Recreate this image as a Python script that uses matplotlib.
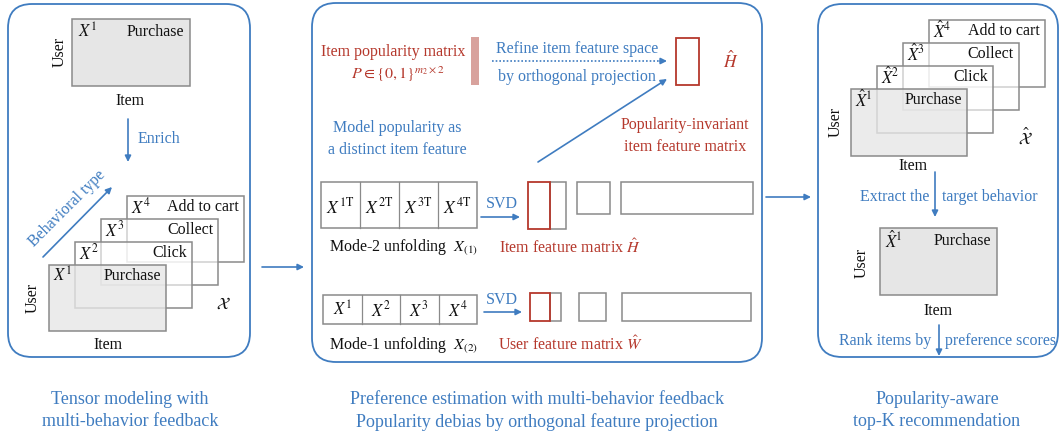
import matplotlib
matplotlib.use("Agg")
import matplotlib.pyplot as plt
from matplotlib.patches import Rectangle, FancyBboxPatch
from matplotlib.colors import to_rgba

plt.rcParams['font.family'] = ['Liberation Serif', 'DejaVu Serif']
plt.rcParams['mathtext.fontset'] = 'stix'

# ---- content ----
behaviors = ['Purchase', 'Click', 'Collect', 'Add to cart']
x_labels = [r'$X^{1}$', r'$X^{2}$', r'$X^{3}$', r'$X^{4}$']
xt_labels = [r'$X^{1\mathrm{T}}$', r'$X^{2\mathrm{T}}$', r'$X^{3\mathrm{T}}$', r'$X^{4\mathrm{T}}$']
xhat_labels = [r'$\hat{X}^{1}$', r'$\hat{X}^{2}$', r'$\hat{X}^{3}$', r'$\hat{X}^{4}$']
captions = [
    ['Tensor modeling with', 'multi-behavior feedback'],
    ['Preference estimation with multi-behavior feedback',
     'Popularity debias by orthogonal feature projection'],
    ['Popularity-aware', 'top-K recommendation'],
]

BLUE = '#3f7cc0'
RED = '#b5382c'
GRAY = '#8a8a8a'
FILL = '#e6e6e6'
PINK = '#d8a29d'
BLACK = '#111111'
FS = 11.5

fig = plt.figure(figsize=(10.61, 4.35), dpi=100)
ax = fig.add_axes([0, 0, 1, 1])
ax.set_xlim(0, 1061)
ax.set_ylim(435, 0)
ax.axis('off')


def rect(x0, y0, x1, y1, ec=GRAY, fc='none', lw=1.1, z=2):
    ax.add_patch(Rectangle((x0, y0), x1 - x0, y1 - y0, ec=ec, fc=fc, lw=lw,
                           zorder=z))


def arrow(x0, y0, x1, y1, ls='-'):
    ax.annotate('', xy=(x1, y1), xytext=(x0, y0),
                arrowprops=dict(arrowstyle='-|>', color=BLUE, lw=1.2,
                                mutation_scale=9, linestyle=ls,
                                shrinkA=0, shrinkB=0))


def txt(x, y, s, color=BLACK, ha='center', fs=FS, rot=0, **kw):
    ax.text(x, y, s, color=color, ha=ha, va='center', fontsize=fs,
            rotation=rot, rotation_mode='anchor', zorder=12, **kw)


def panel(x0, y0, x1, y1):
    ax.add_patch(FancyBboxPatch((x0, y0), x1 - x0, y1 - y0,
                                boxstyle='round,pad=0,rounding_size=24',
                                ec=BLUE, fc='none', lw=1.3, zorder=1))


def stack(x0, y0, dx, dy, w, h, labels, names):
    for i in range(3, -1, -1):
        bx = x0 + i * dx
        by = y0 - i * dy
        fc = to_rgba(FILL, 0.8) if i == 0 else to_rgba('white', 0.6)
        rect(bx, by, bx + w, by + h, ec=GRAY, fc=fc, z=2 + (3 - i), lw=1.1)
    for i in range(4):
        bx = x0 + i * dx
        by = y0 - i * dy
        txt(bx + 4, by + 10, labels[i], ha='left', fs=FS + 0.5)
        txt(bx + w - 5, by + 10, names[i], ha='right')


# ---- panels ----
panel(8, 5, 250, 358)
panel(312, 4, 762, 363)
panel(818, 5, 1058, 358)

arrow(262, 268, 304, 268)
arrow(766, 198, 811, 198)

# ---- panel 1 ----
rect(72, 20, 190, 87, fc=FILL)
txt(78, 32, x_labels[0], ha='left', fs=FS + 0.5)
txt(184, 32, behaviors[0], ha='right')
txt(60, 52, 'User', rot=90)
txt(130, 101, 'Item')
arrow(128, 120, 128, 163)
txt(138, 139, 'Enrich', color=BLUE, ha='left')
arrow(43, 258, 112, 188)
txt(31, 244, 'Behavioral type', color=BLUE, ha='left', rot=45)
stack(49, 266, 26, 23, 117, 66, x_labels, behaviors)
txt(33, 298, 'User', rot=90)
txt(108, 345, 'Item')
txt(223, 305, r'$\mathcal{X}$', fs=FS + 1)

# ---- panel 2 ----
txt(393, 52, 'Item popularity matrix', color=RED)
txt(398, 74, r'$P \in \{0,1\}^{m_2\times 2}$', color=RED)
rect(471, 38, 479, 86, ec='none', fc=PINK)
txt(577, 49, 'Refine item feature space', color=BLUE)
txt(577, 77, 'by orthogonal projection', color=BLUE)
ax.plot([492, 662], [62, 62], color=BLUE, lw=1.2, ls=(0, (1, 1.2)))
arrow(660, 62, 667, 62)
rect(676, 39, 699, 86, ec=RED, lw=1.3)
txt(731, 61, r'$\hat{H}$', color=RED, fs=FS + 1)
arrow(538, 163, 667, 80)
txt(397, 128, 'Model popularity as', color=BLUE)
txt(397, 150, 'a distinct item feature', color=BLUE)
txt(685, 125, 'Popularity-invariant', color=RED)
txt(685, 147, 'item feature matrix', color=RED)

# mode-2 unfolding
cw = (477 - 321) / 4
rect(321, 183, 477, 229)
for i in range(4):
    if i > 0:
        ax.plot([321 + i * cw] * 2, [183, 229], color=GRAY, lw=0.9, zorder=3)
    txt(321 + (i + 0.5) * cw, 207, xt_labels[i], fs=FS + 1)
txt(502, 204, 'SVD', color=BLUE)
arrow(481, 218, 520, 218)
rect(550, 183, 566, 230)
rect(528, 183, 550, 230, ec=RED, lw=1.3, z=3)
rect(577, 183, 610, 215)
rect(621, 183, 753, 215)
txt(329, 247, 'Mode-2 unfolding  ' + r'$X_{(1)}$', ha='left')
txt(499, 248, 'Item feature matrix ' + r'$\hat{H}$', color=RED, ha='left')

# mode-1 unfolding
cw = (477 - 323) / 4
rect(323, 296, 477, 325)
for i in range(4):
    if i > 0:
        ax.plot([323 + i * cw] * 2, [296, 325], color=GRAY, lw=0.9, zorder=3)
    txt(323 + (i + 0.5) * cw, 310, x_labels[i], fs=FS + 0.5)
txt(502, 300, 'SVD', color=BLUE)
arrow(484, 313, 522, 313)
rect(550, 294, 561, 322)
rect(530, 294, 550, 322, ec=RED, lw=1.3, z=3)
rect(579, 294, 606, 322)
rect(622, 294, 751, 322)
txt(329, 345, 'Mode-1 unfolding  ' + r'$X_{(2)}$', ha='left')
txt(498, 345, 'User feature matrix ' + r'$\hat{W}$', color=RED, ha='left')

# ---- panel 3 ----
stack(851, 90, 26, 23, 116, 67, xhat_labels, behaviors)
txt(836, 122, 'User', rot=90)
txt(913, 166, 'Item')
txt(1025, 137, r'$\hat{\mathcal{X}}$', fs=FS + 1)
arrow(935, 173, 935, 218)
txt(929, 197, 'Extract the', color=BLUE, ha='right')
txt(942, 197, 'target behavior', color=BLUE, ha='left')
rect(880, 229, 997, 296, fc=FILL)
txt(885, 241, xhat_labels[0], ha='left', fs=FS + 0.5)
txt(991, 241, behaviors[0], ha='right')
txt(862, 263, 'User', rot=90)
txt(938, 311, 'Item')
arrow(939, 326, 939, 357)
txt(931, 341, 'Rank items by', color=BLUE, ha='right')
txt(945, 341, 'preference scores', color=BLUE, ha='left')

# ---- captions ----
for cx, lines in zip([130, 537, 937], captions):
    txt(cx, 400, lines[0], color=BLUE, fs=13)
    txt(cx, 422, lines[1], color=BLUE, fs=13)

fig.savefig('out.png', dpi=100)
